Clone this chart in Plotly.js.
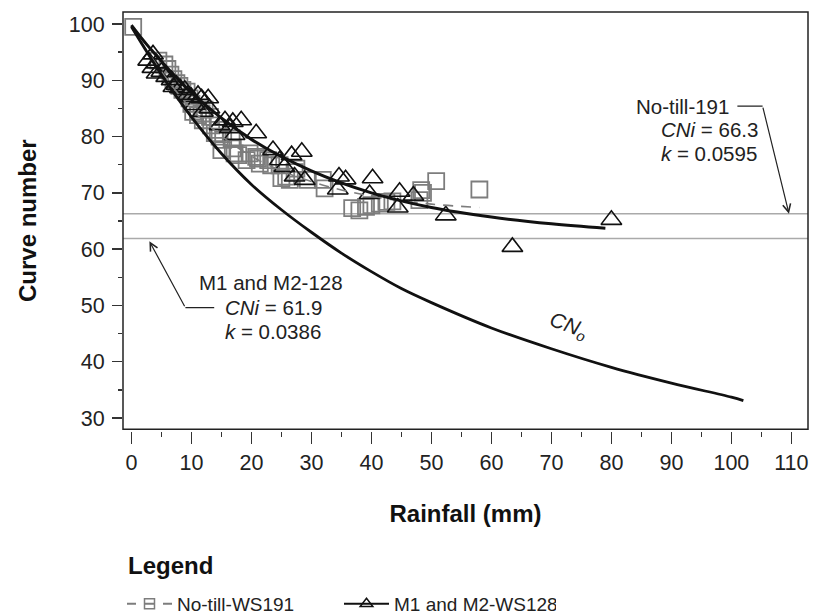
<!DOCTYPE html>
<html>
<head>
<meta charset="utf-8">
<script src="https://cdn.plot.ly/plotly-3.0.1.min.js"></script>
<style>html,body{margin:0;padding:0;background:#fff;}#chart{width:821px;height:615px;}</style>
</head>
<body>
<div id="chart"></div>
<script>
// ---- Data ----
// Observed curve numbers, No-till watershed WS191 (gray open squares)
const noTillRain = [0.3, 4.5, 5.5, 6.0, 6.5, 7.0, 7.5, 8.0, 8.5, 9.2, 9.7, 10.0, 10.3, 11.1, 11.7, 11.9, 12.2, 13.1, 13.3, 13.9, 14.4, 14.7, 15.0, 15.3, 16.7, 16.9, 17.2, 17.8, 19.2, 19.7, 20.8, 21.1, 21.4, 22.8, 23.3, 24.7, 25.0, 25.8, 26.4, 27.2, 27.5, 29.4, 31.9, 32.2, 36.8, 38.0, 39.1, 40.0, 41.4, 42.5, 43.5, 48.0, 48.3, 48.6, 50.8, 58.0];
const noTillCN   = [99.5, 93.5, 92.8, 92.0, 91.0, 90.2, 89.5, 89.0, 88.3, 88.0, 86.8, 85.8, 84.4, 83.8, 84.1, 82.9, 84.8, 83.5, 82.0, 80.6, 81.2, 80.0, 77.6, 79.4, 79.7, 77.9, 77.0, 76.7, 75.8, 77.0, 76.4, 76.1, 75.2, 75.8, 74.9, 74.9, 72.6, 72.9, 72.3, 73.7, 74.3, 72.3, 72.3, 70.8, 67.3, 66.9, 67.5, 67.8, 68.1, 68.4, 68.5, 68.7, 70.5, 70.0, 72.1, 70.6];
// Observed curve numbers, M1 and M2 watersheds WS128 (black open triangles)
const m12Rain = [2.8, 3.6, 4.2, 3.5, 5.0, 4.2, 5.8, 6.7, 7.0, 7.5, 8.1, 8.9, 9.4, 10.0, 11.1, 11.7, 12.8, 10.6, 11.9, 13.0, 14.7, 15.6, 16.4, 16.9, 17.2, 18.3, 20.8, 23.6, 24.7, 25.5, 26.7, 27.2, 28.4, 28.9, 34.6, 35.7, 34.4, 40.2, 39.7, 44.7, 44.4, 47.0, 52.4, 63.5, 80.0];
const m12CN   = [93.5, 94.6, 93.0, 92.2, 91.5, 91.2, 90.6, 90.0, 88.8, 89.2, 88.6, 88.3, 87.4, 87.0, 87.4, 86.8, 86.8, 85.6, 84.4, 85.0, 82.0, 82.9, 81.5, 82.6, 80.3, 82.9, 80.6, 77.6, 75.8, 74.6, 76.7, 72.9, 77.3, 72.3, 72.9, 72.4, 70.6, 72.6, 69.8, 70.2, 67.4, 69.5, 66.0, 60.4, 65.2];
// Fitted curves
const noTillFitRain = [0, 10, 20, 30, 40, 50, 58];
const noTillFitCN   = [99.5, 84.9, 76.5, 72.0, 69.4, 68.0, 67.4];
const m12FitRain = [0, 3, 10, 20, 30, 40, 50, 60, 70, 79];
const m12FitCN   = [99.8, 95.8, 87.8, 79.5, 73.9, 70.0, 67.4, 65.7, 64.5, 63.7];
// CN0 curve
const cn0Rain = [0, 5, 10, 15, 20, 25, 30, 35, 40, 45, 50, 60, 70, 80, 90, 100, 102];
const cn0CN   = [99.5, 91.0, 83.5, 77.0, 71.5, 67.0, 63.0, 59.3, 56.0, 53.0, 50.5, 46.0, 42.3, 39.0, 36.2, 33.7, 33.1];
// Asymptotic CNi values (horizontal reference lines)
const cniLabels = ['No-till-191', 'M1 and M2-128'];
const cniValues = [66.3, 61.9];
const kValues   = ['0.0595', '0.0386'];
const seriesNames = ['No-till-WS191', 'M1 and M2-WS128'];
const xTickVals = [0, 10, 20, 30, 40, 50, 60, 70, 80, 90, 100, 110];
const yTickVals = [30, 40, 50, 60, 70, 80, 90, 100];

const GRAY = '#7d7d7d';
const FONT = 'Liberation Sans, Arial, sans-serif';

const traces = [
  {x: noTillRain, y: noTillCN, mode: 'markers', type: 'scatter', showlegend: false,
   marker: {symbol: 'square-open', size: 16, color: GRAY, line: {width: 1.8}}},
  {x: m12Rain, y: m12CN, mode: 'markers', type: 'scatter', showlegend: false,
   marker: {symbol: 'triangle-up-open', size: 18, color: '#111', line: {width: 1.6}}},
  {x: noTillFitRain, y: noTillFitCN, mode: 'lines', type: 'scatter', showlegend: false,
   line: {color: GRAY, width: 1.6, dash: '10px,8px', shape: 'spline'}},
  {x: m12FitRain, y: m12FitCN, mode: 'lines', type: 'scatter', showlegend: false,
   line: {color: '#111', width: 3, shape: 'spline'}},
  {x: cn0Rain, y: cn0CN, mode: 'lines', type: 'scatter', showlegend: false,
   line: {color: '#111', width: 2.8, shape: 'spline'}},
  // legend entries
  {x: [null], y: [null], mode: 'lines+markers', type: 'scatter', name: seriesNames[0],
   line: {color: GRAY, width: 2, dash: 'dash'},
   marker: {symbol: 'square-open', size: 10, color: GRAY, line: {width: 1.5}}},
  {x: [null], y: [null], mode: 'lines+markers', type: 'scatter', name: seriesNames[1],
   line: {color: '#111', width: 2},
   marker: {symbol: 'triangle-up-open', size: 11, color: '#111', line: {width: 1.5}}}
];

const yDom0 = 0.004;
const shapes = cniValues.map(v => ({
  type: 'line', xref: 'paper', x0: 0, x1: 1, yref: 'y', y0: v, y1: v,
  line: {color: '#aaaaaa', width: 1.5}, layer: 'below'
}));
shapes.push({type: 'rect', xref: 'paper', yref: 'paper', x0: 0, x1: 1, y0: yDom0, y1: 1,
  line: {color: '#222', width: 1.5}});
// bent leader for No-till label
shapes.push({type: 'line', xref: 'x', yref: 'y', x0: 101.0, x1: 105.2, y0: 85.4, y1: 85.4,
  line: {color: '#222', width: 1.2}});
// bent leader for M1/M2 label
shapes.push({type: 'line', xref: 'x', yref: 'y', x0: 9.0, x1: 13.8, y0: 49.6, y1: 49.6,
  line: {color: '#222', width: 1.2}});

const txt = {family: FONT, size: 20.5, color: '#222'};
const annotations = [
  {x: 100.0, y: 85.4, xref: 'x', yref: 'y', text: cniLabels[0], showarrow: false, xanchor: 'right', font: txt},
  {x: 88.0, y: 81.2, xref: 'x', yref: 'y', text: '<i>CNi</i> = ' + cniValues[0], showarrow: false, xanchor: 'left', font: txt},
  {x: 88.0, y: 77.0, xref: 'x', yref: 'y', text: '<i>k</i> = ' + kValues[0], showarrow: false, xanchor: 'left', font: txt},
  {x: 109.6, y: cniValues[0], xref: 'x', yref: 'y', ax: 105.2, ay: 85.4, axref: 'x', ayref: 'y',
   showarrow: true, arrowhead: 5, arrowsize: 1.3, arrowwidth: 1.2, arrowcolor: '#222', text: ''},
  {x: 11.0, y: 54.0, xref: 'x', yref: 'y', text: cniLabels[1], showarrow: false, xanchor: 'left', font: txt},
  {x: 15.2, y: 49.6, xref: 'x', yref: 'y', text: '<i>CNi</i> = ' + cniValues[1], showarrow: false, xanchor: 'left', font: txt},
  {x: 15.3, y: 45.3, xref: 'x', yref: 'y', text: '<i>k</i> = ' + kValues[1], showarrow: false, xanchor: 'left', font: txt},
  {x: 3.0, y: 61.4, xref: 'x', yref: 'y', ax: 9.0, ay: 49.6, axref: 'x', ayref: 'y',
   showarrow: true, arrowhead: 5, arrowsize: 1.3, arrowwidth: 1.2, arrowcolor: '#222', text: ''},
  {x: 72.8, y: 46.3, xref: 'x', yref: 'y', text: '<i>CN</i><sub><i>o</i></sub>', showarrow: false,
   textangle: 20, font: {family: FONT, size: 21, color: '#222'}},
  // legend heading
  {xref: 'paper', yref: 'paper', x: (126 - 123) / 685, y: -(565 - 431) / 419, xanchor: 'left', yanchor: 'middle',
   text: '<b>Legend</b>', showarrow: false, font: {family: FONT, size: 24, color: '#111'}}
];

const layout = {
  width: 821, height: 615,
  margin: {l: 123, r: 13, t: 12, b: 184},
  paper_bgcolor: '#fff', plot_bgcolor: '#fff',
  font: {family: FONT, color: '#222'},
  xaxis: {
    range: [-1.4, 112.77], anchor: 'free', position: 0,
    tickvals: xTickVals, ticktext: xTickVals.map(String),
    ticks: 'outside', ticklen: 12, tickwidth: 1.5, tickcolor: '#333',
    minor: {dtick: 5, tick0: 0, ticks: 'outside', ticklen: 5, tickwidth: 1.5, tickcolor: '#333', showgrid: false},
    showgrid: false, zeroline: false, showline: false,
    tickfont: {family: FONT, size: 21.5, color: '#222'}, ticklabelstandoff: 0,
    title: {text: 'Rainfall (mm)', font: {family: FONT, size: 24, color: '#111', weight: 'bold'}, standoff: 31}
  },
  yaxis: {
    domain: [yDom0, 1], range: [27.99, 102.13],
    tickvals: yTickVals, ticktext: yTickVals.map(String),
    ticks: 'outside', ticklen: 10, tickwidth: 1.5, tickcolor: '#333',
    minor: {dtick: 5, tick0: 0, ticks: 'outside', ticklen: 4, tickwidth: 1.5, tickcolor: '#333', showgrid: false},
    showgrid: false, zeroline: false, showline: false,
    tickfont: {family: FONT, size: 21.5, color: '#222'}, ticklabelstandoff: 3,
    title: {text: 'Curve number', font: {family: FONT, size: 24, color: '#111', weight: 'bold'}, standoff: 25}
  },
  showlegend: true,
  legend: {
    orientation: 'h', xref: 'container', yref: 'container',
    x: 122 / 821, y: 1 - 585 / 615, xanchor: 'left', yanchor: 'top',
    font: {family: FONT, size: 19, color: '#222'},
    entrywidth: 157, itemwidth: 45, bgcolor: 'rgba(0,0,0,0)'
  },
  shapes: shapes,
  annotations: annotations
};

Plotly.newPlot('chart', traces, layout, {displayModeBar: false, staticPlot: true});
</script>
</body>
</html>
